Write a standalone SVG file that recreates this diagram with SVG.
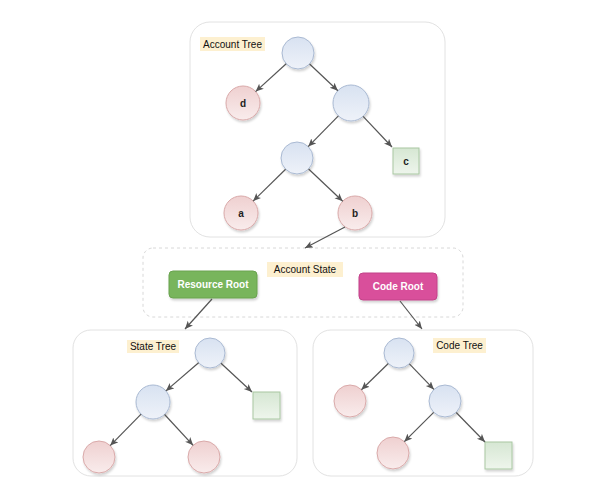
<svg xmlns="http://www.w3.org/2000/svg" width="600" height="480" viewBox="0 0 600 480">
<defs>
<linearGradient id="gBlue" x1="0" y1="0" x2="0" y2="1"><stop offset="0" stop-color="#d8e2f1"/><stop offset="1" stop-color="#eef2f9"/></linearGradient>
<linearGradient id="gRed" x1="0" y1="0" x2="0" y2="1"><stop offset="0" stop-color="#efd0d0"/><stop offset="1" stop-color="#f9ecec"/></linearGradient>
<linearGradient id="gGreen" x1="0" y1="0" x2="0" y2="1"><stop offset="0" stop-color="#d6e7d3"/><stop offset="1" stop-color="#eef5ec"/></linearGradient>
<filter id="sh" x="-30%" y="-30%" width="160%" height="160%"><feDropShadow dx="1" dy="2" stdDeviation="1" flood-color="#000" flood-opacity="0.18"/></filter>
<marker id="arr" markerUnits="userSpaceOnUse" markerWidth="10" markerHeight="8" refX="8" refY="3.5" orient="auto"><path d="M0,0 L8,3.5 L0,7 L2,3.5 z" fill="#555"/></marker>
</defs>
<style>
.box{fill:#fff;stroke:#e2e2e2;stroke-width:1}
.dash{fill:#fff;stroke:#d8d8d8;stroke-width:1;stroke-dasharray:3 3}
.lbl{fill:#fdf0d0}
.t{font-family:"Liberation Sans",Arial,sans-serif;font-size:10px;fill:#111;text-anchor:middle;dominant-baseline:central}
.tb{font-family:"Liberation Sans",Arial,sans-serif;font-size:10px;fill:#222;text-anchor:middle;dominant-baseline:central;font-weight:bold}
.tw{font-family:"Liberation Sans",Arial,sans-serif;font-size:10px;fill:#fff;text-anchor:middle;dominant-baseline:central;font-weight:bold}
.b{fill:url(#gBlue);stroke:#a9b9d2;stroke-width:1;filter:url(#sh)}
.r{fill:url(#gRed);stroke:#d9a9a9;stroke-width:1;filter:url(#sh)}
.g{fill:url(#gGreen);stroke:#a9c8a2;stroke-width:1;filter:url(#sh)}
.e{stroke:#555;stroke-width:1.2;fill:none;marker-end:url(#arr)}
</style>
<rect width="600" height="480" fill="#fff"/>

<g id="accountTree">
<rect class="box" x="190" y="22" width="255" height="215" rx="20"/>
<rect class="lbl" x="200" y="37" width="65" height="14"/>
<text class="t" x="232.5" y="44">Account Tree</text>
</g>
<g id="at-root"><circle class="b" cx="298" cy="53" r="16"/></g>
<g id="at-d"><circle class="r" cx="243" cy="103" r="17"/><text class="tb" x="243" y="103">d</text></g>
<g id="at-mid"><circle class="b" cx="351" cy="103" r="18"/></g>
<g id="at-low"><circle class="b" cx="297" cy="158" r="16"/></g>
<g id="at-c"><rect class="g" x="393" y="148" width="26" height="26"/><text class="tb" x="406" y="161">c</text></g>
<g id="at-a"><circle class="r" cx="241" cy="213" r="17"/><text class="tb" x="241" y="213">a</text></g>
<g id="at-b"><circle class="r" cx="355" cy="213" r="17"/><text class="tb" x="355" y="213">b</text></g>

<g id="accountState">
<rect class="dash" x="143" y="248" width="320" height="69" rx="10"/>
<rect class="lbl" x="267" y="262" width="76" height="15"/>
<text class="t" x="305" y="269.5">Account State</text>
</g>
<g id="resourceRoot"><rect x="169" y="271" width="88" height="27" rx="4" fill="#78b55b" stroke="#6aa34f" filter="url(#sh)"/><text class="tw" x="213" y="284.5">Resource Root</text></g>
<g id="codeRoot"><rect x="359" y="273" width="78" height="27" rx="4" fill="#d94f9b" stroke="#c24389" filter="url(#sh)"/><text class="tw" x="398" y="286.5">Code Root</text></g>

<g id="stateTree">
<rect class="box" x="73" y="330" width="224" height="146" rx="18"/>
<rect class="lbl" x="127" y="340" width="52" height="13"/>
<text class="t" x="153" y="346.5">State Tree</text>
</g>
<g id="st-root"><circle class="b" cx="210" cy="353" r="15"/></g>
<g id="st-mid"><circle class="b" cx="153" cy="402" r="17"/></g>
<g id="st-sq"><rect class="g" x="253" y="392" width="27" height="27"/></g>
<g id="st-l"><circle class="r" cx="99" cy="457" r="16"/></g>
<g id="st-r"><circle class="r" cx="204" cy="457" r="16"/></g>

<g id="codeTree">
<rect class="box" x="313" y="330" width="220" height="146" rx="18"/>
<rect class="lbl" x="433" y="338" width="53" height="15"/>
<text class="t" x="459.5" y="345.5">Code Tree</text>
</g>
<g id="ct-root"><circle class="b" cx="399" cy="353" r="15"/></g>
<g id="ct-l"><circle class="r" cx="350" cy="401" r="16"/></g>
<g id="ct-mid"><circle class="b" cx="445" cy="401" r="16"/></g>
<g id="ct-bl"><circle class="r" cx="393" cy="453" r="16"/></g>
<g id="ct-sq"><rect class="g" x="485" y="442" width="27" height="27"/></g>

<g id="connectors">
<line class="e" x1="286.2" y1="63.8" x2="255.6" y2="91.6"/>
<line class="e" x1="309.6" y1="64" x2="337.9" y2="90.7"/>
<line class="e" x1="338.4" y1="115.8" x2="308.2" y2="146.6"/>
<line class="e" x1="363.1" y1="116.3" x2="392" y2="147"/>
<line class="e" x1="285.6" y1="169.2" x2="253.1" y2="201.1"/>
<line class="e" x1="308.6" y1="169" x2="342.7" y2="201.3"/>
<line class="e" x1="345" y1="227" x2="305" y2="248"/>
<line class="e" x1="212" y1="299" x2="185" y2="329"/>
<line class="e" x1="400" y1="301" x2="422" y2="329"/>
<line class="e" x1="198.6" y1="362.8" x2="165.9" y2="390.9"/>
<line class="e" x1="221" y1="363.2" x2="252" y2="392"/>
<line class="e" x1="141.1" y1="414.1" x2="110.2" y2="445.6"/>
<line class="e" x1="164.6" y1="414.5" x2="193.1" y2="445.3"/>
<line class="e" x1="388.3" y1="363.5" x2="361.4" y2="389.8"/>
<line class="e" x1="409.4" y1="363.8" x2="433.9" y2="389.4"/>
<line class="e" x1="433.7" y1="412.3" x2="404.3" y2="441.7"/>
<line class="e" x1="456.2" y1="412.5" x2="485" y2="442"/>
</g>
</svg>
